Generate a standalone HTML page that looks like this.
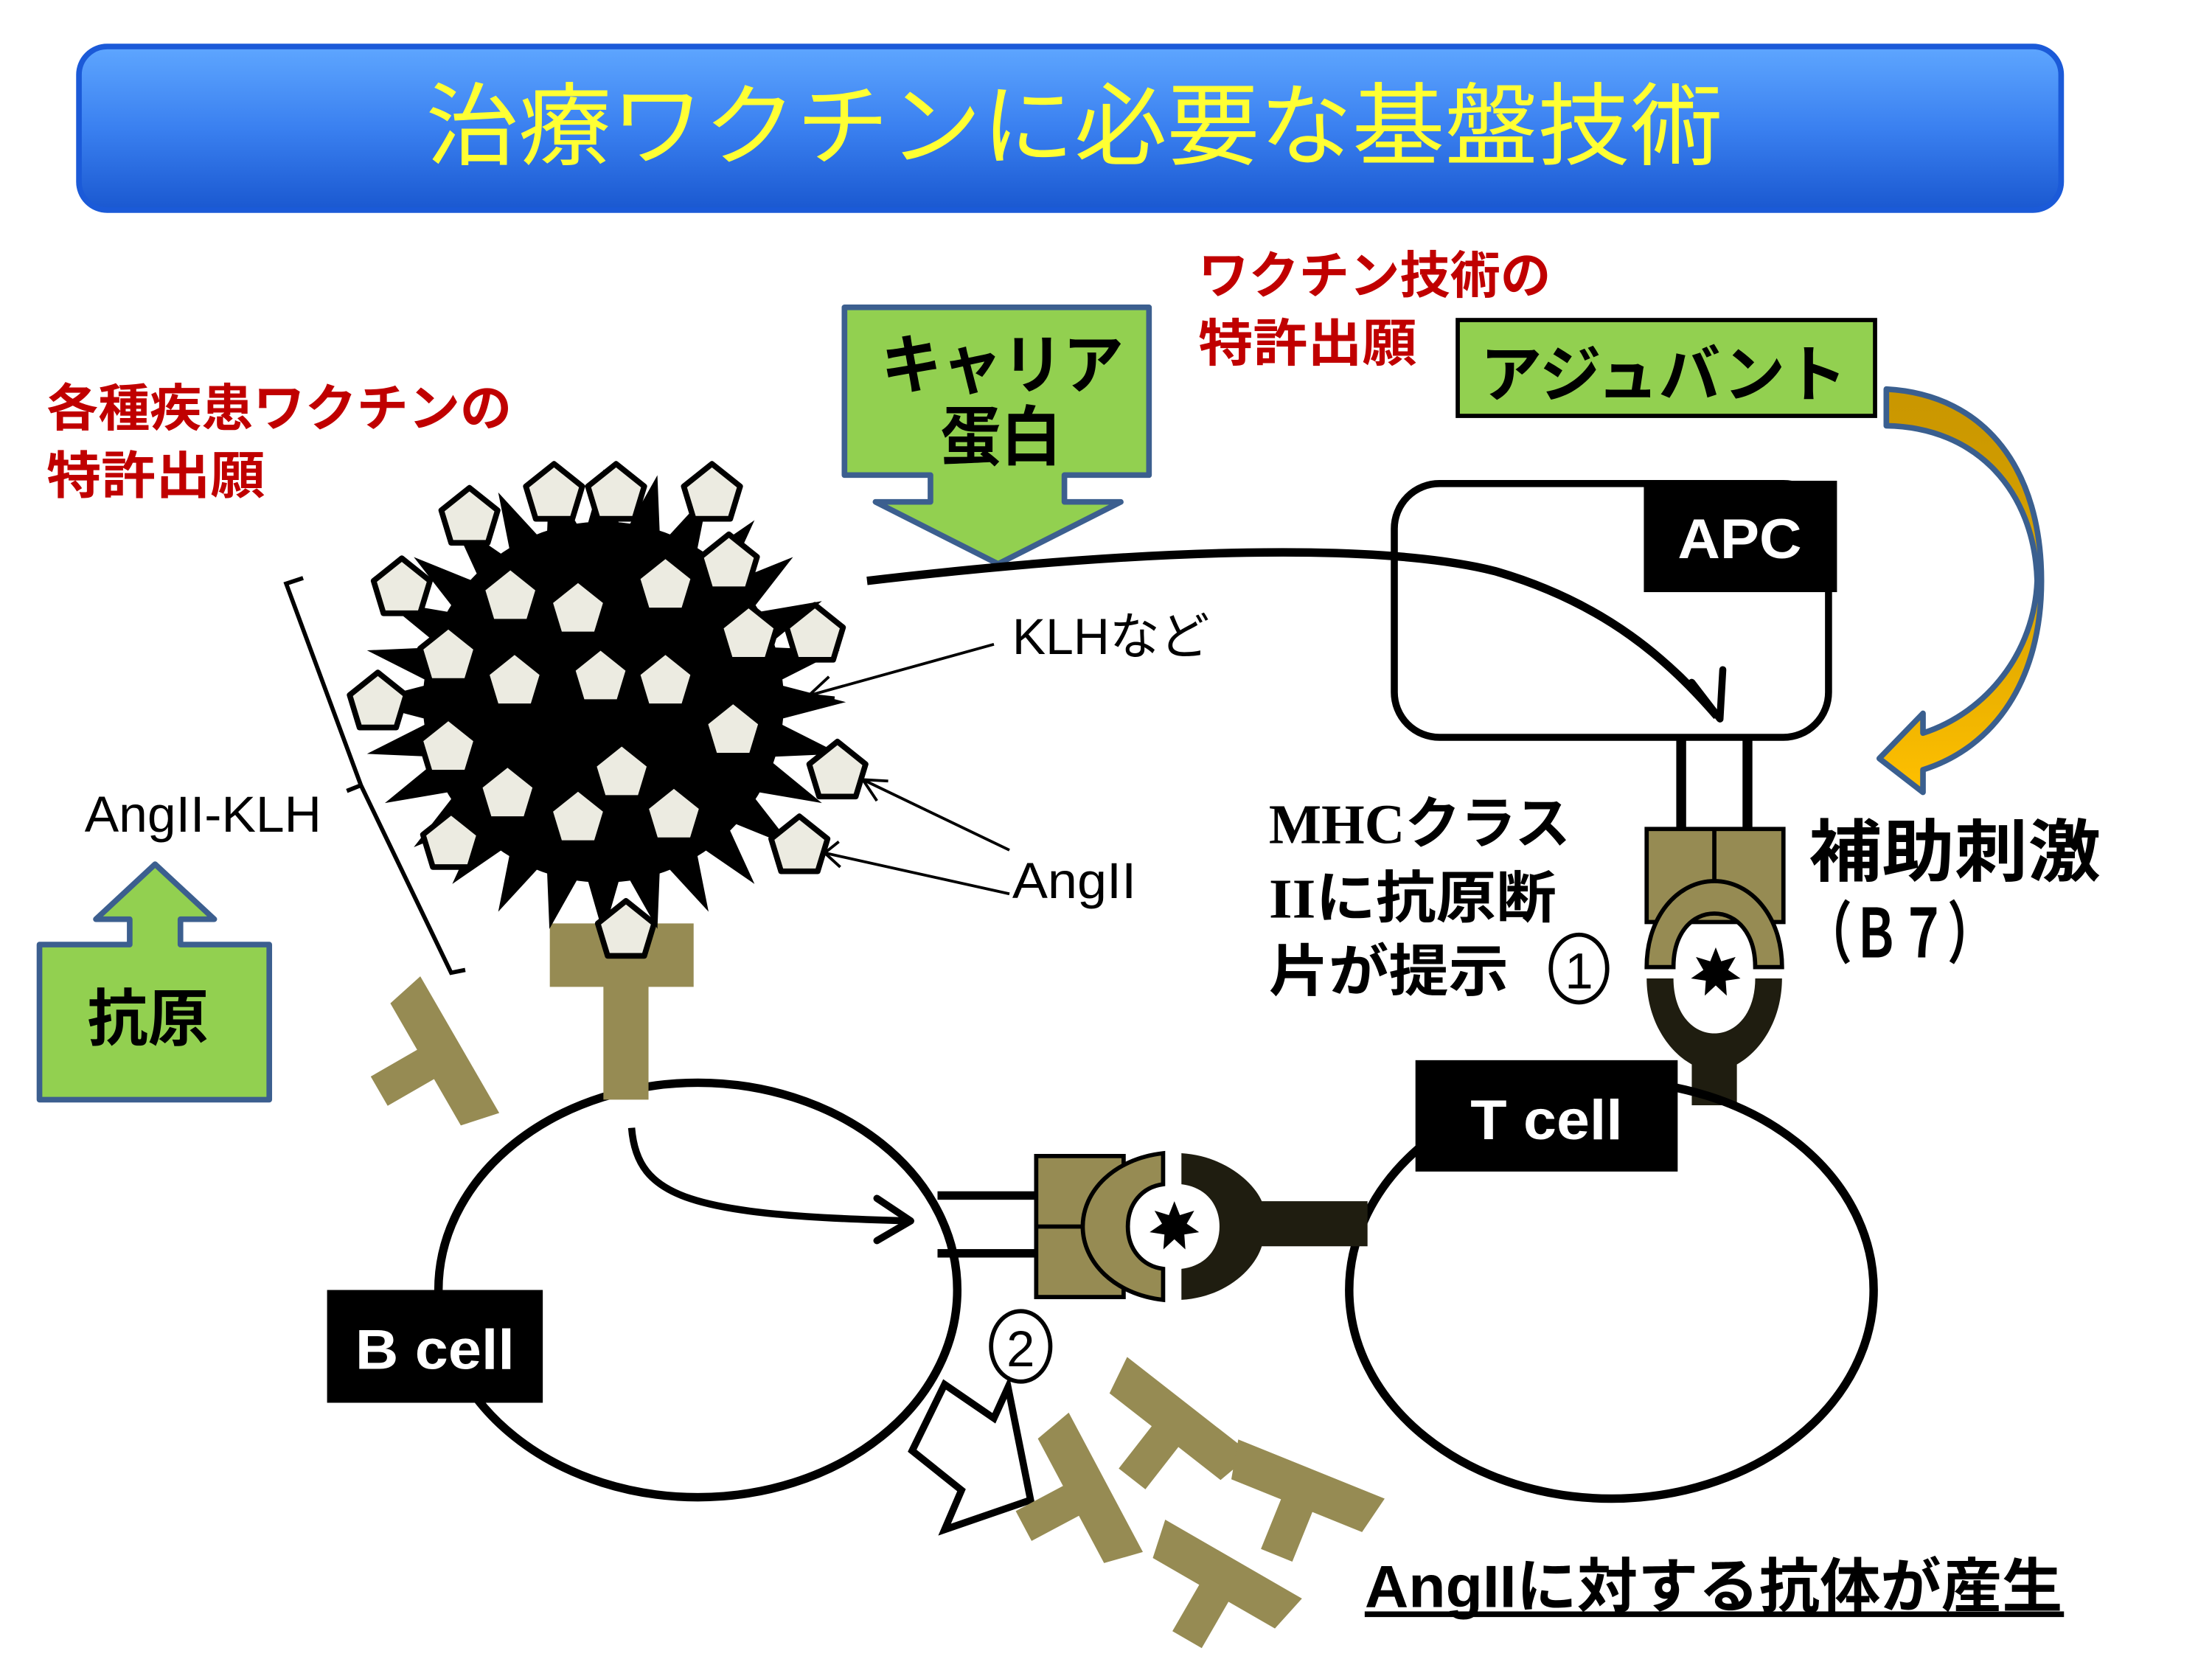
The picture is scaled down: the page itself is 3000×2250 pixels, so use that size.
<!DOCTYPE html>
<html><head><meta charset="utf-8"><style>
html,body{margin:0;padding:0;background:#fff;}
svg{display:block;}
.j{font-family:"Liberation Sans","Noto Sans CJK JP",sans-serif;}
.b{font-weight:bold;}
</style></head><body>
<svg width="3000" height="2250" viewBox="0 0 1569 1176.75" xmlns="http://www.w3.org/2000/svg">
<defs>
<linearGradient id="tg" x1="0" y1="0" x2="0" y2="1">
<stop offset="0" stop-color="#5ea6ff"/><stop offset="0.5" stop-color="#3a80f0"/><stop offset="1" stop-color="#1a58d0"/>
</linearGradient>
<linearGradient id="og" x1="0" y1="0" x2="0" y2="1">
<stop offset="0" stop-color="#c99600"/><stop offset="0.5" stop-color="#d9a300"/><stop offset="1" stop-color="#ffc000"/>
</linearGradient>
<g id="star7"><polygon points="0,-18 3.9,-8.11 14.07,-11.22 8.77,-2 17.55,4 7.04,5.61 7.81,16.22 0,9 -7.81,16.22 -7.04,5.61 -17.55,4 -8.77,-2 -14.07,-11.22 -3.9,-8.11" fill="#000"/></g>
<g id="ab"><polygon points="-56,-14 56,-14 50,14 12,14 12,52 -12,52 -12,14 -50,14" fill="#968b53"/></g>
</defs>

<rect x="56" y="33" width="1406" height="116" rx="20" fill="url(#tg)" stroke="#1b5ad8" stroke-width="4"/>
<text x="762" y="112" text-anchor="middle" font-size="64" fill="#ffff33" class="j" textLength="920" lengthAdjust="spacingAndGlyphs">治療ワクチンに必要な基盤技術</text>

<text x="850" y="208" font-size="36" fill="#c00000" class="j b" textLength="250" lengthAdjust="spacingAndGlyphs">ワクチン技術の</text>
<text x="850" y="256" font-size="36" fill="#c00000" class="j b" textLength="155" lengthAdjust="spacingAndGlyphs">特許出願</text>
<text x="33" y="302" font-size="36" fill="#c00000" class="j b" textLength="330" lengthAdjust="spacingAndGlyphs">各種疾患ワクチンの</text>
<text x="33" y="350" font-size="36" fill="#c00000" class="j b" textLength="155" lengthAdjust="spacingAndGlyphs">特許出願</text>

<path d="M599,218 L815,218 L815,337 L755,337 L755,356 L795,356 L708,400 L621,356 L660,356 L660,337 L599,337 Z" fill="#92d050" stroke="#3c5f8f" stroke-width="4" stroke-linejoin="round"/>
<text x="625" y="275" font-size="46" class="j b" textLength="172" lengthAdjust="spacingAndGlyphs">キャリア</text>
<text x="667" y="326" font-size="46" class="j b" textLength="86" lengthAdjust="spacingAndGlyphs">蛋白</text>

<rect x="1034" y="227" width="296" height="68" fill="#92d050" stroke="#000" stroke-width="3"/>
<text x="1050" y="281" font-size="44" class="j b" textLength="260" lengthAdjust="spacingAndGlyphs">アジュバント</text>

<path d="M1338,276 C1410,280 1448,335 1448,412 C1448,482 1415,530 1364,546 L1364,562 L1333,538 L1364,506 L1364,520 C1410,505 1443,462 1445,412 C1443,348 1402,303 1338,302 Z" fill="url(#og)" stroke="#3a5f8f" stroke-width="4" stroke-linejoin="round"/>

<rect x="989" y="343" width="308" height="180" rx="32" fill="none" stroke="#000" stroke-width="5"/>
<rect x="1166" y="341" width="137" height="79" fill="#000"/>
<text x="1190" y="396" font-size="40" fill="#fff" class="j b" textLength="88" lengthAdjust="spacingAndGlyphs">APC</text>

<path d="M615,412 C820,388 980,385 1060,405 C1140,428 1185,470 1218,508" fill="none" stroke="#000" stroke-width="6"/>
<path d="M1200,484 L1220,510 L1222,475" fill="none" stroke="#000" stroke-width="5" stroke-linecap="round" stroke-linejoin="round"/>

<rect x="1189" y="522" width="7" height="67" fill="#000"/>
<rect x="1236" y="522" width="7" height="67" fill="#000"/>
<rect x="1168" y="588" width="97" height="66" fill="#968b53" stroke="#000" stroke-width="3"/>
<line x1="1216" y1="588" x2="1216" y2="640" stroke="#000" stroke-width="3"/>
<path d="M1168,686 C1168,650 1190,625 1216,625 C1242,625 1264,650 1264,686 L1245,686 C1245,662 1232,648 1216,648 C1200,648 1187,662 1187,686 Z" fill="#968b53" stroke="#000" stroke-width="3"/>
<path d="M1168,694 L1187,694 C1187,718 1200,733 1216,733 C1232,733 1245,718 1245,694 L1264,694 C1264,722 1250,745 1232,755 L1232,784 L1200,784 L1200,755 C1182,745 1168,722 1168,694 Z" fill="#1f1d10"/>
<use href="#star7" x="1217" y="690"/>

<text x="1283" y="621" font-size="48" class="j b" textLength="207" lengthAdjust="spacingAndGlyphs">補助刺激</text>
<text x="1280" y="679" font-size="48" class="j b" textLength="135" lengthAdjust="spacingAndGlyphs">（Ｂ７）</text>

<text x="900" y="598" font-size="40" font-weight="bold" font-family="'Liberation Serif','Noto Sans CJK JP',serif" textLength="214" lengthAdjust="spacingAndGlyphs">MHCクラス</text>
<text x="900" y="651" font-size="40" font-weight="bold" font-family="'Liberation Serif','Noto Sans CJK JP',serif" textLength="204" lengthAdjust="spacingAndGlyphs">IIに抗原断</text>
<text x="900" y="703" font-size="40" font-weight="bold" class="j" textLength="170" lengthAdjust="spacingAndGlyphs">片が提示</text>
<ellipse cx="1120" cy="687" rx="20" ry="24" fill="none" stroke="#000" stroke-width="3"/>
<text x="1120" y="701" font-size="36" text-anchor="middle" class="j">1</text>

<ellipse cx="1143" cy="915" rx="186" ry="148" fill="none" stroke="#000" stroke-width="6"/>
<rect x="1004" y="752" width="186" height="79" fill="#000"/>
<text x="1043" y="808" font-size="40" fill="#fff" class="j b" textLength="108" lengthAdjust="spacingAndGlyphs">T cell</text>

<ellipse cx="495" cy="915" rx="184" ry="147" fill="none" stroke="#000" stroke-width="6"/>
<rect x="232" y="915" width="153" height="80" fill="#000"/>
<text x="252" y="971" font-size="40" fill="#fff" class="j b" textLength="113" lengthAdjust="spacingAndGlyphs">B cell</text>

<rect x="390" y="655" width="102" height="45" fill="#968b53"/>
<rect x="428" y="698" width="32" height="82" fill="#968b53"/>

<rect x="665" y="845" width="72" height="6" fill="#000"/>
<rect x="665" y="886" width="72" height="6" fill="#000"/>
<rect x="735" y="820" width="62" height="100" fill="#968b53" stroke="#000" stroke-width="3"/>
<line x1="735" y1="870" x2="770" y2="870" stroke="#000" stroke-width="3"/>
<path d="M825,818 C790,822 768,845 768,870 C768,895 790,918 825,922 L825,900 C810,898 800,886 800,870 C800,854 810,842 825,840 Z" fill="#968b53" stroke="#000" stroke-width="3"/>
<path d="M838,818 C870,820 890,840 895,852 L970,852 L970,884 L895,884 C890,900 870,920 838,922 L838,900 C855,898 865,886 865,870 C865,854 855,842 838,840 Z" fill="#1f1d10"/>
<use href="#star7" x="833" y="870"/>

<path d="M448,800 C452,850 490,862 645,866" fill="none" stroke="#000" stroke-width="5"/>
<path d="M622,850 L646,866 L622,880" fill="none" stroke="#000" stroke-width="5" stroke-linecap="round" stroke-linejoin="round"/>

<ellipse cx="724" cy="955" rx="21" ry="25" fill="#fff" stroke="#000" stroke-width="3"/>
<text x="724" y="969" font-size="36" text-anchor="middle" class="j">2</text>
<polygon points="670,982 647,1029 682,1057 670,1085 731,1064 715,984 705,1006" fill="#fff" stroke="#000" stroke-width="5" stroke-linejoin="miter"/>

<use href="#ab" transform="translate(314,748) rotate(60)"/>
<use href="#ab" transform="translate(772,1058) rotate(62)"/>
<use href="#ab" transform="translate(835,1008) rotate(38)"/>
<use href="#ab" transform="translate(925,1055) rotate(22)"/>
<use href="#ab" transform="translate(868,1118) rotate(30)"/>

<text x="968" y="1140" font-size="42" class="j b" textLength="495" lengthAdjust="spacingAndGlyphs">AngIIに対する抗体が産生</text>
<rect x="968" y="1143" width="496" height="4" fill="#000"/>

<circle cx="428" cy="498" r="128" fill="#000"/>
<polygon id="spk" fill="#000" points=""/>
<g id="pents"></g>

<path d="M215,410 L203,414 L256,557 L246,561 M256,557 L320,690 L330,688" fill="none" stroke="#000" stroke-width="3"/>
<text x="60" y="590" font-size="36" class="j" textLength="168" lengthAdjust="spacingAndGlyphs">AngII-KLH</text>
<text x="718" y="464" font-size="36" class="j" textLength="140" lengthAdjust="spacingAndGlyphs">KLHなど</text>
<text x="718" y="637" font-size="36" class="j" textLength="88" lengthAdjust="spacingAndGlyphs">AngII</text>
<line x1="705" y1="457" x2="575" y2="493" stroke="#000" stroke-width="2"/>
<path d="M588,480 L574,493 L592,495" fill="none" stroke="#000" stroke-width="2"/>
<line x1="716" y1="603" x2="612" y2="553" stroke="#000" stroke-width="2"/>
<path d="M622,568 L612,553 L630,554" fill="none" stroke="#000" stroke-width="2"/>
<line x1="716" y1="634" x2="585" y2="605" stroke="#000" stroke-width="2"/>
<path d="M595,597 L585,605 L596,615" fill="none" stroke="#000" stroke-width="2"/>

<path d="M28,670 L92,670 L92,652 L68,652 L110,613 L152,652 L128,652 L128,670 L191,670 L191,780 L28,780 Z" fill="#92d050" stroke="#3c5f8f" stroke-width="4" stroke-linejoin="round"/>
<text x="62" y="738" font-size="44" class="j b" textLength="86" lengthAdjust="spacingAndGlyphs">抗原</text>
</svg>
<script>
(function(){
 var cx=428,cy=498,n=28,p=[];
 for(var i=0;i<n*2;i++){
  var a=-Math.PI/2+i*Math.PI/n;
  var rx=(i%2==0)?172:122, ry=(i%2==0)?165:118;
  p.push((cx+rx*Math.cos(a)).toFixed(1)+","+(cy+ry*Math.sin(a)).toFixed(1));
 }
 document.getElementById("spk").setAttribute("points",p.join(" "));
 var c=[[333,367],[393,350],[437,350],[505,350],[285,417],[517,400],[362,423],[410,432],[472,415],[578,450],[318,465],[531,450],[365,483],[426,480],[472,483],[268,498],[520,518],[318,530],[594,547],[360,563],[441,548],[410,580],[478,578],[320,597],[567,600],[444,660]];
 var g=document.getElementById("pents"),h="";
 c.forEach(function(q){
  var x=q[0],y=q[1];
  h+='<polygon points="'+x+','+(y-21)+' '+(x+20)+','+(y-5)+' '+(x+13)+','+(y+18)+' '+(x-13)+','+(y+18)+' '+(x-20)+','+(y-5)+'" fill="#ecebe1" stroke="#000" stroke-width="4" stroke-linejoin="round"/>';
 });
 g.innerHTML=h;
})();
</script>
</body></html>
